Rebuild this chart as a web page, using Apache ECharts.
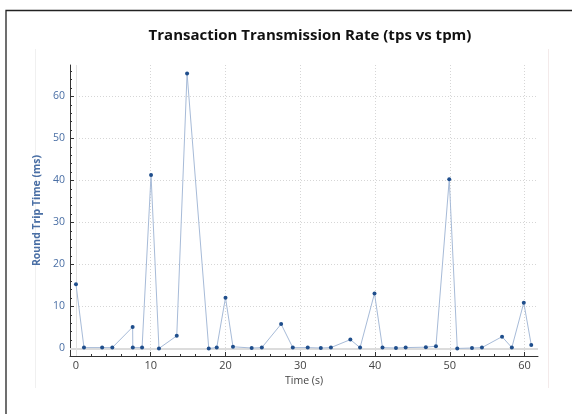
<!DOCTYPE html>
<html>
<head>
<meta charset="utf-8">
<script src="https://cdn.jsdelivr.net/npm/echarts@6/dist/echarts.min.js"></script>
<style>html,body{margin:0;padding:0;background:#fff;}#c{width:572px;height:414px;}</style>
</head>
<body>
<div id="c"></div>
<script>
var timeValues = [0, 1.07, 3.5, 4.86, 7.58, 7.6, 8.84, 10.04, 11.1, 13.48, 14.86, 17.76, 18.83, 20.0, 21.0, 23.5, 24.86, 27.44, 29.0, 31.0, 32.75, 34.1, 36.7, 38.0, 39.93, 41.0, 42.8, 44.1, 46.8, 48.15, 49.93, 51.0, 52.97, 54.3, 56.99, 58.3, 59.9, 60.9];
var rttValues = [15.3, 0.2, 0.2, 0.2, 5.1, 0.2, 0.2, 41.3, 0.0, 3.0, 65.5, 0.0, 0.2, 12.1, 0.4, 0.1, 0.2, 5.8, 0.2, 0.2, 0.1, 0.2, 2.1, 0.2, 13.1, 0.2, 0.1, 0.2, 0.3, 0.55, 40.3, 0.0, 0.1, 0.2, 2.8, 0.2, 10.9, 0.8];
var xTickValues = [0, 10, 20, 30, 40, 50, 60];
var yTickValues = [0, 10, 20, 30, 40, 50, 60];
var xMinorValues = [2, 4, 6, 8, 12, 14, 16, 18, 22, 24, 26, 28, 32, 34, 36, 38, 42, 44, 46, 48, 52, 54, 56, 58];
var yMinorValues = [2, 4, 6, 8, 12, 14, 16, 18, 22, 24, 26, 28, 32, 34, 36, 38, 42, 44, 46, 48, 52, 54, 56, 58, 62, 64, 66];
var titleText = 'Transaction Transmission Rate (tps vs tpm)';
var xName = 'Time (s)';
var yName = 'Round Trip Time (ms)';

var points = timeValues.map(function (t, i) { return [t, rttValues[i]]; });
var xMin = -0.8, xMax = 61.8, yMin = -1.8, yMax = 67.5;
var gridLineStyle = { color: '#d6d6d6', type: [1, 2], width: 1 };

var chart = echarts.init(document.getElementById('c'), null, { renderer: 'canvas' });
chart.setOption({
  animation: false,
  backgroundColor: '#fff',
  title: {
    text: titleText, left: 305, top: 23, textAlign: 'center',
    textStyle: { fontFamily: 'Open Sans', fontWeight: 'bold', fontSize: 15, color: '#111' }
  },
  graphic: [
    { type: 'polyline', silent: true, shape: { points: [[6, 414], [6, 10.5], [572, 10.5]] }, style: { stroke: '#222', lineWidth: 1.3, fill: null } },
    { type: 'line', silent: true, shape: { x1: 35.5, y1: 49, x2: 35.5, y2: 388 }, style: { stroke: '#f0f0f0', lineWidth: 1 } },
    { type: 'line', silent: true, shape: { x1: 548.5, y1: 49, x2: 548.5, y2: 388 }, style: { stroke: '#f3eaea', lineWidth: 1 } }
  ],
  grid: { left: 70, right: 34, top: 65, bottom: 58, containLabel: false },
  xAxis: [{
    type: 'value', min: xMin, max: xMax, position: 'bottom',
    name: xName, nameLocation: 'middle', nameGap: 18,
    nameTextStyle: { fontFamily: 'Open Sans', fontSize: 10.5, color: '#444' },
    axisLine: { show: true, onZero: false, lineStyle: { color: '#333', width: 1 } },
    axisTick: { show: true, inside: true, length: 4, customValues: xTickValues, lineStyle: { color: '#333' } },
    axisLabel: { customValues: xTickValues, fontFamily: 'Open Sans', fontSize: 11, color: '#444', margin: 4 },
    splitLine: { show: true, lineStyle: gridLineStyle }
  }, {
    type: 'value', min: xMin, max: xMax, position: 'bottom',
    axisLine: { show: false, onZero: false },
    axisTick: { show: true, inside: true, length: 2, customValues: xMinorValues, lineStyle: { color: '#333' } },
    axisLabel: { show: false },
    splitLine: { show: false }
  }],
  yAxis: [{
    type: 'value', min: yMin, max: yMax,
    name: yName, nameLocation: 'middle', nameGap: 19, nameRotate: 90,
    nameTextStyle: { fontFamily: 'Open Sans', fontSize: 10.5, color: '#4a6fa5', fontWeight: 'bold' },
    axisLine: { show: true, onZero: false, lineStyle: { color: '#333', width: 1 } },
    axisTick: { show: true, inside: true, length: 4, customValues: yTickValues, lineStyle: { color: '#333' } },
    axisLabel: { customValues: yTickValues, fontFamily: 'Open Sans', fontSize: 10.5, color: '#4a6fa5', margin: 5 },
    splitLine: { show: true, lineStyle: gridLineStyle }
  }, {
    type: 'value', min: yMin, max: yMax, position: 'left',
    axisLine: { show: false, onZero: false },
    axisTick: { show: true, inside: true, length: 2, customValues: yMinorValues, lineStyle: { color: '#333' } },
    axisLabel: { show: false },
    splitLine: { show: false }
  }],
  series: [{
    type: 'line', xAxisIndex: 0, yAxisIndex: 0,
    data: [], z: 1, silent: true,
    markLine: {
      silent: true, symbol: 'none', label: { show: false },
      lineStyle: { color: '#dcdcdc', type: 'solid', width: 2 },
      data: [{ yAxis: 0 }, { xAxis: 0, lineStyle: { width: 1, color: '#e2e2e2' } }]
    }
  }, {
    type: 'line', xAxisIndex: 0, yAxisIndex: 0,
    data: points,
    symbol: 'circle', symbolSize: 4,
    itemStyle: { color: '#1f4e8c' },
    lineStyle: { color: '#a7bbd8', width: 1 },
    z: 5
  }]
});
</script>
</body>
</html>
